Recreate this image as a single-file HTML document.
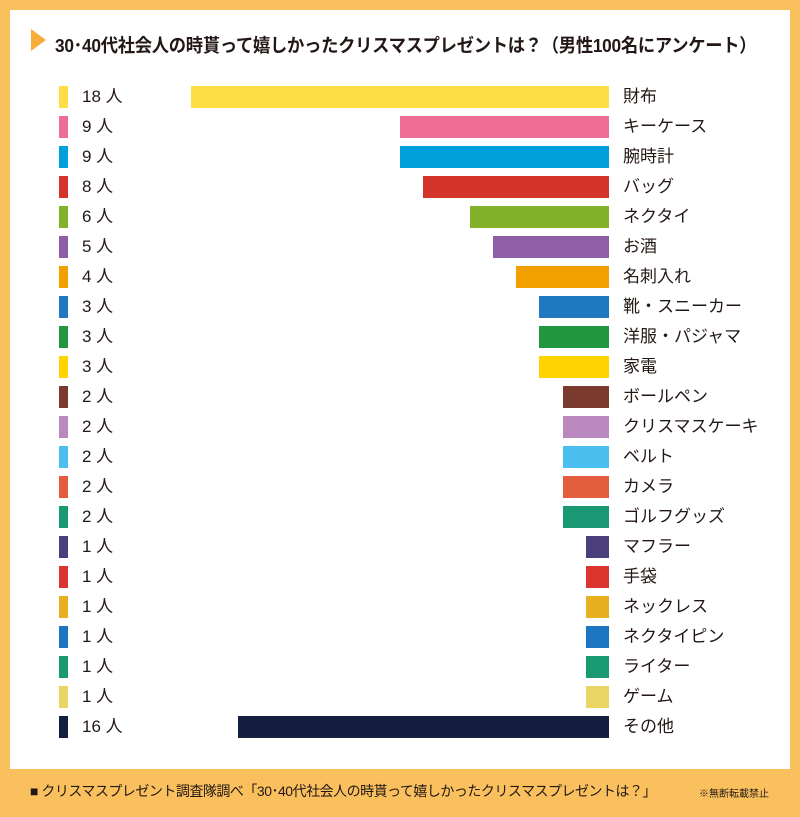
<!DOCTYPE html>
<html><head><meta charset="utf-8"><style>
body{margin:0;width:800px;height:817px;background:#FAC05E;position:relative;overflow:hidden;font-family:"Liberation Sans","Noto Sans CJK JP",sans-serif;color:#231815}
#w{position:absolute;left:10px;top:10px;width:780px;height:759px;background:#fff}
.t{position:absolute;left:55px;top:32px;font-size:18.5px;font-weight:bold;white-space:nowrap;letter-spacing:-0.3px;transform:scaleX(0.935);transform-origin:0 0}
.tri{position:absolute;left:31px;top:29px;width:0;height:0;border-top:11px solid transparent;border-bottom:11px solid transparent;border-left:15px solid #F6AE38}
.r{position:absolute;height:22px}
.sq{position:absolute;left:59px;width:9px;height:22px}
.n{position:absolute;left:82px;font-size:17px;line-height:22px}
.l{position:absolute;left:623px;font-size:17px;line-height:22px}
.f{position:absolute;left:30px;top:781px;font-size:14px;white-space:nowrap;letter-spacing:-0.5px}
.f2{position:absolute;left:699px;top:785px;font-size:10px;white-space:nowrap}
</style></head><body>
<div id="w"></div>
<div class="tri"></div>
<div class="t">30･40代社会人の時貰って嬉しかったクリスマスプレゼントは？（男性100名にアンケート）</div>
<div id="rows"></div>
<div class="f">■ クリスマスプレゼント調査隊調べ「30･40代社会人の時貰って嬉しかったクリスマスプレゼントは？」</div>
<div class="f2">※無断転載禁止</div>
<script>
var d=[[18,"財布","#FFDD44"],[9,"キーケース","#EE6E96"],[9,"腕時計","#00A0DD"],[8,"バッグ","#D5342B"],[6,"ネクタイ","#82B22A"],[5,"お酒","#8E5FA6"],[4,"名刺入れ","#F2A000"],[3,"靴・スニーカー","#1F78C0"],[3,"洋服・パジャマ","#22973F"],[3,"家電","#FFD300"],[2,"ボールペン","#7A3A2E"],[2,"クリスマスケーキ","#B888BE"],[2,"ベルト","#4ABFEF"],[2,"カメラ","#E35C3C"],[2,"ゴルフグッズ","#1A9874"],[1,"マフラー","#4A3F7A"],[1,"手袋","#DC3530"],[1,"ネックレス","#E8B020"],[1,"ネクタイピン","#1D76C2"],[1,"ライター","#1A9A72"],[1,"ゲーム","#E8D564"],[16,"その他","#141E3E"]];
var h="";d.forEach(function(r,i){var y=86+30*i,w=r[0]*23.2;
h+='<div class="sq" style="top:'+y+'px;background:'+r[2]+'"></div><div class="n" style="top:'+y+'px">'+r[0]+' 人</div><div class="r" style="top:'+y+'px;left:'+(609-w)+'px;width:'+w+'px;background:'+r[2]+'"></div><div class="l" style="top:'+y+'px">'+r[1]+'</div>';});
document.getElementById("rows").innerHTML=h;
</script>
</body></html>
